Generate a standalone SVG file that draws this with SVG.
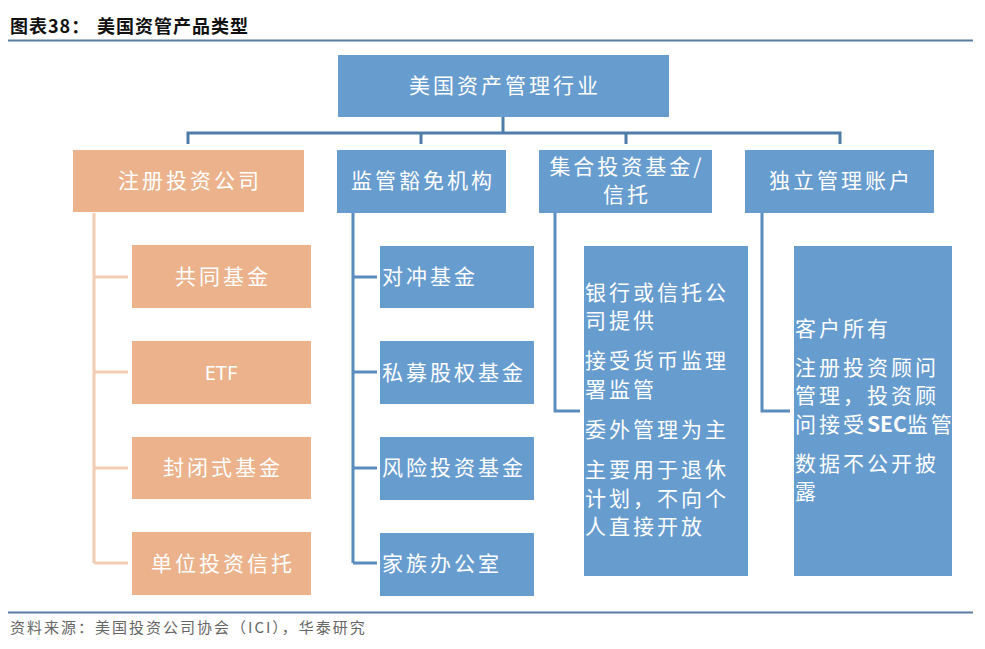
<svg xmlns="http://www.w3.org/2000/svg" width="985" height="649" viewBox="0 0 985 649">
<style>
.t{font-family:"Noto Sans CJK SC","Noto Sans",sans-serif;fill:#fff;font-size:21px;letter-spacing:3px}
.c{text-anchor:middle}
.b{fill:#679CCF}
.o{fill:#EBB28C}
.lb{stroke:#5A8CBE;stroke-width:3;fill:none}
.lo{stroke:#F3CDB3;stroke-width:3;fill:none}
.h{font-family:"Noto Sans CJK SC",sans-serif;font-weight:bold;font-size:18px;fill:#111;letter-spacing:1px}
.f{font-family:"Noto Sans CJK SC",sans-serif;font-size:15px;fill:#666;letter-spacing:2px}
</style>
<rect width="985" height="649" fill="#fff"/>
<g id="title">
<text class="h" x="10" y="33">图表38：</text>
<text class="h" x="97" y="33">美国资管产品类型</text>
<line x1="8" y1="40.5" x2="973" y2="40.5" stroke="#5B7CA0" stroke-width="2"/>
</g>
<g id="connectors">
<path d="M503 117V133M188 144V133H840V144M421 133V144M626 133V144" stroke="#4E7DA9" stroke-width="3" fill="none"/>
<path class="lo" d="M94 213V563M94 277H128M94 372H128M94 468H128M94 563H128"/>
<path class="lb" d="M353 213V563M353 277H377M353 372H377M353 468H377M353 563H377"/>
<path class="lb" d="M555 213V411H580"/>
<path class="lb" d="M762 213V411H790"/>
</g>
<g id="root"><rect class="b" x="338" y="55" width="331" height="62"/><text class="t c" x="505" y="93">美国资产管理行业</text></g>
<g id="n1"><rect class="o" x="73" y="150" width="231" height="62"/><text class="t c" x="190" y="188">注册投资公司</text></g>
<g id="n2"><rect class="b" x="337" y="150" width="169" height="63"/><text class="t c" x="423" y="188">监管豁免机构</text></g>
<g id="n3"><rect class="b" x="539" y="150" width="173" height="63"/><text class="t c" x="627" y="174">集合投资基金/</text><text class="t c" x="627" y="202">信托</text></g>
<g id="n4"><rect class="b" x="745" y="150" width="189" height="63"/><text class="t c" x="841" y="188">独立管理账户</text></g>
<g id="o1"><rect class="o" x="132" y="245" width="179" height="63"/><text class="t c" x="223" y="284">共同基金</text></g>
<g id="o2"><rect class="o" x="132" y="341" width="179" height="63"/><text class="t c" x="221" y="380" style="font-family:'Noto Sans',sans-serif;font-size:20px;letter-spacing:0">ETF</text></g>
<g id="o3"><rect class="o" x="132" y="437" width="179" height="62"/><text class="t c" x="223" y="475">封闭式基金</text></g>
<g id="o4"><rect class="o" x="132" y="532" width="179" height="63"/><text class="t c" x="223" y="571">单位投资信托</text></g>
<g id="b1"><rect class="b" x="380" y="246" width="154" height="62"/><text class="t" x="382" y="284">对冲基金</text></g>
<g id="b2"><rect class="b" x="380" y="341" width="154" height="63"/><text class="t" x="382" y="380">私募股权基金</text></g>
<g id="b3"><rect class="b" x="380" y="437" width="154" height="63"/><text class="t" x="382" y="475">风险投资基金</text></g>
<g id="b4"><rect class="b" x="380" y="533" width="154" height="63"/><text class="t" x="382" y="571">家族办公室</text></g>
<g id="c3"><rect class="b" x="584" y="246" width="164" height="330"/>
<text class="t" x="585" y="300">银行或信托公</text>
<text class="t" x="585" y="328">司提供</text>
<text class="t" x="585" y="368">接受货币监理</text>
<text class="t" x="585" y="397">署监管</text>
<text class="t" x="585" y="437">委外管理为主</text>
<text class="t" x="585" y="477">主要用于退休</text>
<text class="t" x="585" y="506">计划，不向个</text>
<text class="t" x="585" y="534">人直接开放</text>
</g>
<g id="c4"><rect class="b" x="794" y="246" width="158" height="330"/>
<text class="t" x="795" y="336">客户所有</text>
<text class="t" x="795" y="375">注册投资顾问</text>
<text class="t" x="795" y="403">管理，投资顾</text>
<text class="t" x="795" y="432">问接受<tspan style="font-weight:bold;letter-spacing:0">SEC</tspan>监管</text>
<text class="t" x="795" y="471">数据不公开披</text>
<text class="t" x="795" y="499">露</text>
</g>
<g id="footer">
<line x1="8" y1="612.5" x2="973" y2="612.5" stroke="#5B7CA0" stroke-width="2"/>
<text class="f" x="10" y="633">资料来源：美国投资公司协会（ICI），华泰研究</text>
</g>
</svg>
